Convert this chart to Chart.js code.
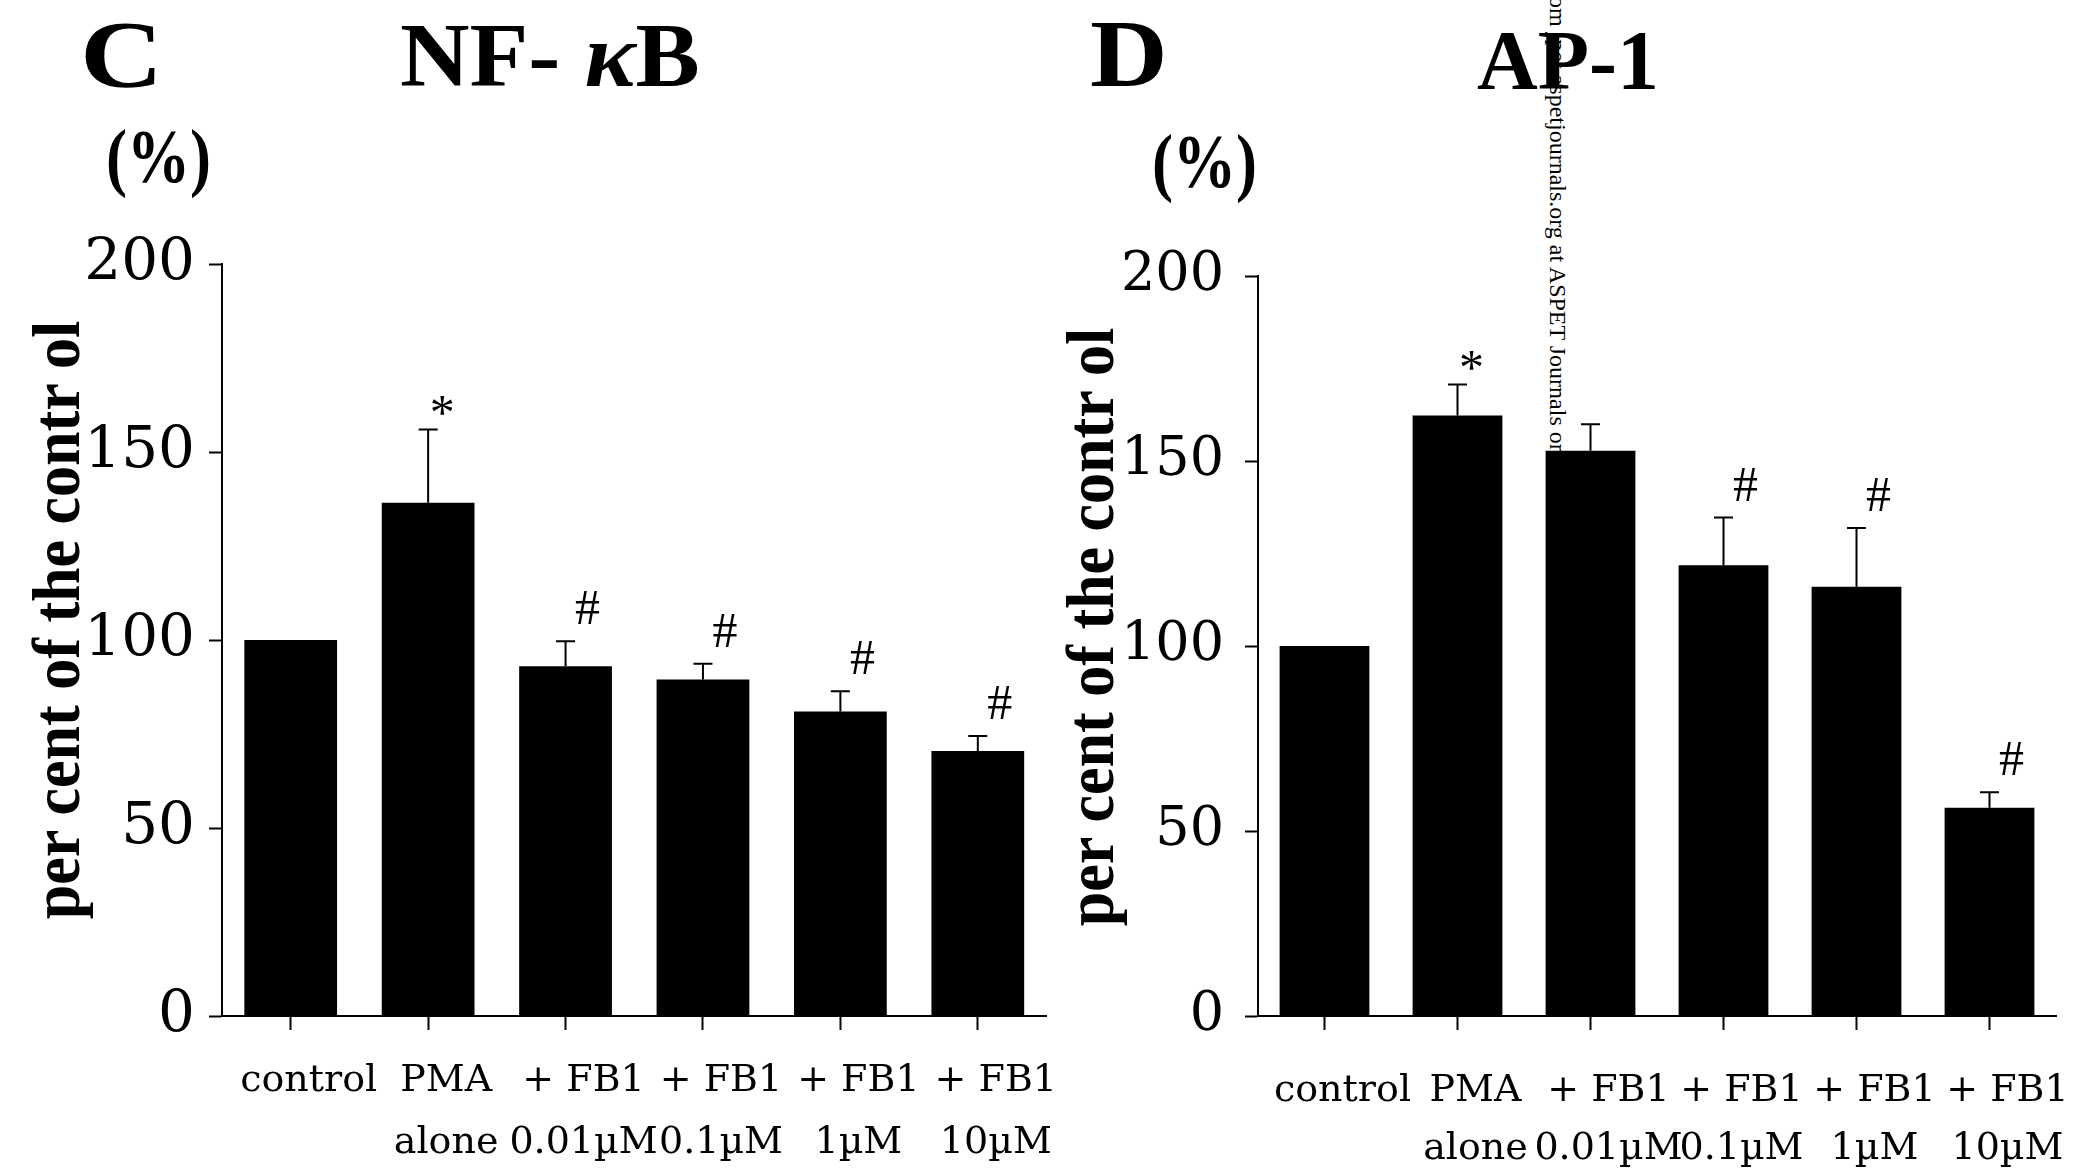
<!DOCTYPE html>
<html>
<head>
<meta charset="utf-8">
<script src="https://cdn.jsdelivr.net/npm/chart.js@4.4.1/dist/chart.umd.min.js"></script>
<style>
  html, body { margin: 0; padding: 0; background: #fff; }
  #page { position: relative; width: 2091px; height: 1170px; overflow: hidden; background: #fff; }
  .head {
    position: absolute; z-index: 1; color: #000; line-height: 1; white-space: nowrap;
    font-family: 'Liberation Serif', 'Times New Roman', serif; font-weight: bold;
    transform-origin: 0 0;
  }
  .ytitle {
    position: absolute; z-index: 1; color: #000; line-height: 1; white-space: nowrap;
    font-family: 'Liberation Serif', 'Times New Roman', serif; font-weight: bold; font-size: 62px;
    transform: translate(-50%, -50%) rotate(-90deg) scaleY(1.1);
  }
  #stamp {
    position: absolute; left: 1570px; top: -4px; z-index: 2; line-height: 1; white-space: nowrap;
    transform-origin: 0 0; transform: rotate(90deg);
    font-family: 'Liberation Serif', 'Times New Roman', serif; font-size: 24px; color: #000;
  }
  canvas { position: absolute; top: 0; z-index: 3; }
  #chartC { left: 0; }
  #chartD { left: 1036px; }
</style>
</head>
<body>
<div id="page">
  <div class="head" style="left:80px;top:7px;font-size:96px;transform:scaleX(1.2);">C</div>
  <div class="head" style="left:400px;top:11px;font-size:90px;transform:scaleX(1.07);">NF- <i>κ</i>B</div>
  <div class="head" style="left:106px;top:118px;font-size:76px;transform:scaleX(0.83);">(%)</div>
  <div class="ytitle" style="left:56px;top:620px;">per cent of the contr ol</div>

  <div class="head" style="left:1090px;top:6px;font-size:96px;transform:scaleX(1.12);">D</div>
  <div class="head" style="left:1477px;top:19px;font-size:84px;">AP-1</div>
  <div class="head" style="left:1152px;top:123px;font-size:76px;transform:scaleX(0.83);">(%)</div>
  <div class="ytitle" style="left:1090px;top:627px;">per cent of the contr ol</div>

  <div id="stamp">om jpet.aspetjournals.org at ASPET Journals on</div>

  <canvas id="chartC" width="1060" height="1170"></canvas>
  <canvas id="chartD" width="1055" height="1170"></canvas>
</div>

<script>
// ── data ─────────────────────────────────────────────
const categories = [
  ['control'],
  ['PMA', 'alone'],
  ['+ FB1', '0.01µM'],
  ['+ FB1', '0.1µM'],
  ['+ FB1', '1µM'],
  ['+ FB1', '10µM'],
];
const yTicks = [0, 50, 100, 150, 200];

// panel C: NF-κB
const nfkbMeans  = [100, 136.5, 93, 89.5, 81, 70.5];
const nfkbErrors = [0, 19.5, 6.7, 4.2, 5.4, 4.0];
const nfkbMarks  = ['', '*', '#', '#', '#', '#'];

// panel D: AP-1
const ap1Means  = [100, 162.3, 152.8, 121.8, 116, 56.3];
const ap1Errors = [0, 8.4, 7.1, 12.9, 15.9, 4.2];
const ap1Marks  = ['', '*', '', '#', '#', '#'];

const SERIF = "'Liberation Serif', 'Times New Roman', serif";
const WIDE_SERIF = "'DejaVu Serif', serif";

// upper error bars + significance marks
const errorBars = {
  id: 'errorBars',
  afterDatasetsDraw(chart, args, opts) {
    const { ctx } = chart;
    const y = chart.scales.y;
    const ds = chart.data.datasets[0];
    const meta = chart.getDatasetMeta(0);
    ctx.save();
    ctx.strokeStyle = '#000';
    ctx.fillStyle = '#000';
    ctx.lineWidth = opts.lineWidth;
    ctx.font = opts.markFont;
    ctx.textAlign = 'center';
    ctx.textBaseline = 'middle';
    meta.data.forEach((bar, i) => {
      const err = ds.errors[i];
      let top = bar.y;
      if (err) {
        top = y.getPixelForValue(ds.data[i] + err);
        ctx.beginPath();
        ctx.moveTo(bar.x, bar.y);
        ctx.lineTo(bar.x, top);
        ctx.moveTo(bar.x - opts.capWidth / 2, top);
        ctx.lineTo(bar.x + opts.capWidth / 2, top);
        ctx.stroke();
      }
      const m = ds.marks[i];
      if (m) {
        const off = opts.markOffset[m];
        ctx.fillText(m, bar.x + off.dx, top - off.dy);
      }
    });
    ctx.restore();
  },
};

function drawPanel(canvasId, means, errors, marks, frame) {
  return new Chart(document.getElementById(canvasId), {
    type: 'bar',
    data: {
      labels: categories,
      datasets: [{
        data: means,
        errors: errors,
        marks: marks,
        backgroundColor: '#000',
        borderWidth: 0,
        barPercentage: 0.675,
        categoryPercentage: 1,
      }],
    },
    options: {
      responsive: false,
      animation: false,
      layout: { padding: { left: 20, top: frame.top, right: frame.right, bottom: 0 } },
      plugins: {
        legend: { display: false },
        tooltip: { enabled: false },
        errorBars: {
          capWidth: 19,
          lineWidth: 2,
          markFont: '50px ' + SERIF,
          markOffset: { '*': { dx: 14, dy: 14 }, '#': { dx: 22, dy: 30 } },
        },
      },
      scales: {
        x: {
          afterFit: s => { s.height = 154; },
          border: { display: true, color: '#000', width: 2 },
          grid: { drawOnChartArea: false, offset: false, color: '#000', tickLength: 14, tickWidth: 2 },
          ticks: {
            color: '#000',
            font: { family: WIDE_SERIF, size: 38, lineHeight: frame.lineHeight },
            padding: frame.labelPad,
            labelOffset: 18,
            autoSkip: false,
            maxRotation: 0,
            minRotation: 0,
          },
        },
        y: {
          min: yTicks[0],
          max: yTicks[yTicks.length - 1],
          afterFit: s => { s.width = 202; },
          afterBuildTicks: s => { s.ticks = yTicks.map(v => ({ value: v })); },
          border: { display: true, color: '#000', width: 2 },
          grid: { drawOnChartArea: false, color: '#000', tickLength: 13, tickWidth: 2 },
          ticks: { color: '#000', font: { family: WIDE_SERIF, size: frame.tickSize }, padding: frame.tickPad },
        },
      },
    },
    plugins: [errorBars],
  });
}

drawPanel('chartC', nfkbMeans, nfkbErrors, nfkbMarks,
  { top: 264, right: 12, labelPad: 20, lineHeight: 1.63, tickPad: 14, tickSize: 58 });
drawPanel('chartD', ap1Means, ap1Errors, ap1Marks,
  { top: 276, right: 35, labelPad: 32, lineHeight: 1.53, tickPad: 21, tickSize: 54 });
</script>
</body>
</html>
